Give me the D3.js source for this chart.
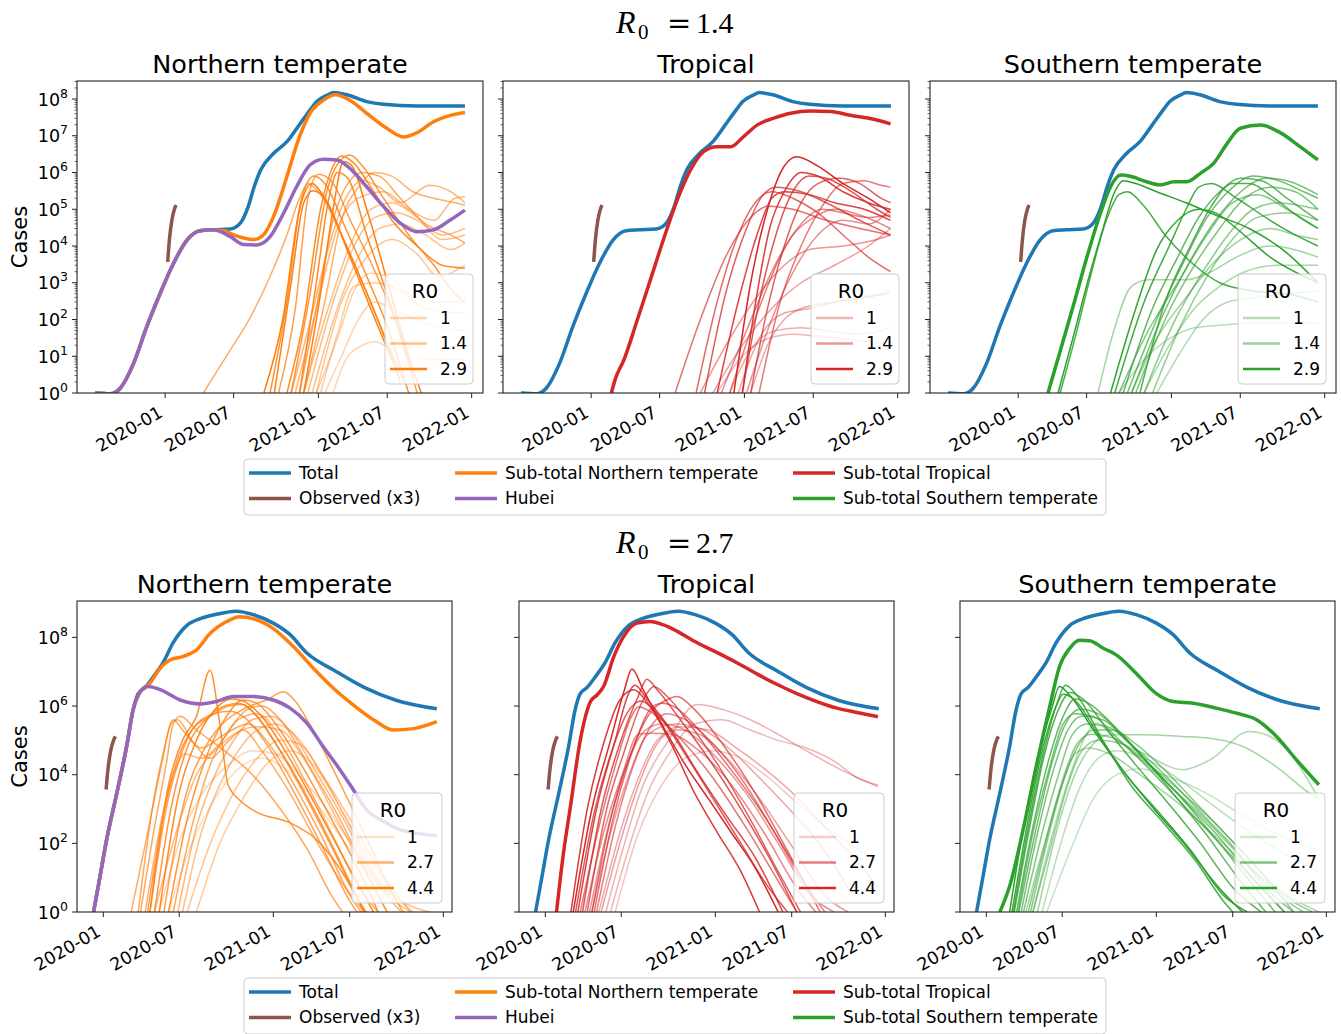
<!DOCTYPE html>
<html><head><meta charset="utf-8">
<script src="https://cdn.jsdelivr.net/npm/d3@7"></script>
<style>
body{margin:0;background:#fff}
text{font-family:"DejaVu Sans",sans-serif;fill:#000}
</style></head>
<body>
<svg id="fig" width="1341" height="1034" xmlns="http://www.w3.org/2000/svg"></svg>
<script>
// ---------------- DATA (x = days since 2020-01-01, y = cases) ----------------
const xTickDays = [0, 163, 365, 529, 730];
const xTickLabels = ["2020-01", "2020-07", "2021-01", "2021-07", "2022-01"];
const regionNames = ["Northern temperate", "Tropical", "Southern temperate"];
const scenarioR0 = ["1.4", "2.7"];
const legendR0Top = [1, 1.4, 2.9];
const legendR0Bottom = [1, 2.7, 4.4];
const mainLegendLabels = ["Total", "Observed (x3)", "Sub-total Northern temperate", "Hubei", "Sub-total Tropical", "Sub-total Southern temperate"];

const observed = [[6,3.7e3],[10,1.45e4],[16,5.1e4],[22,1.0e5],[26,1.3e5]];

// ---- R0 = 1.4 ----
const total14 = [[-167,1],[-131,0.95],[-107,1.35],[-75,6.5],[-44,63],[-12,510],[20,3.4e3],[52,1.45e4],[83,2.6e4],[115,2.75e4],[155,2.9e4],[179,4.2e4],[198,1.2e5],[212,4.1e5],[228,1.2e6],[258,3.3e6],[290,6.9e6],[317,1.8e7],[345,5e7],[361,8.5e7],[385,1.26e8],[401,1.5e8],[433,1.3e8],[480,8.5e7],[520,7.2e7],[599,6.5e7],[714,6.5e7]];
const hubei14 = [[-167,1],[-131,0.95],[-107,1.35],[-75,6.5],[-44,63],[-12,510],[20,3.4e3],[52,1.45e4],[83,2.6e4],[115,2.75e4],[155,1.8e4],[187,1.1e4],[218,1.07e4],[250,1.8e4],[282,7.8e4],[313,4.1e5],[345,1.6e6],[377,2.3e6],[409,2.2e6],[440,1.3e6],[480,4.1e5],[520,1.2e5],[560,4.2e4],[599,2.45e4],[639,2.75e4],[679,5.1e4],[714,9.5e4]];
const subNT14 = [[-167,1],[-131,0.95],[-107,1.35],[-75,6.5],[-44,63],[-12,510],[20,3.4e3],[52,1.45e4],[83,2.6e4],[115,2.75e4],[140,2.6e4],[163,2e4],[210,1.5e4],[234,2e4],[258,6.3e4],[290,7.8e5],[317,7.6e6],[345,4.1e7],[377,9.3e7],[405,1.3e8],[440,9.3e7],[480,4.1e7],[528,1.6e7],[567,9.3e6],[599,1.2e7],[639,2.4e7],[679,3.6e7],[714,4.3e7]];
const subTR14 = [[48,1],[58,2.5],[78,8],[110,98],[141,1.2e3],[173,1.6e4],[205,1.8e5],[237,1.2e6],[268,3.7e6],[300,5e6],[332,5e6],[363,9.5e6],[395,1.95e7],[435,3e7],[475,4.1e7],[522,4.7e7],[570,4.6e7],[617,3.6e7],[673,2.8e7],[713,2.1e7]];
const subST14 = [[71,1],[101,15],[133,275],[164,5.1e3],[196,7.8e4],[220,4.1e5],[244,8.5e5],[267,7.9e5],[306,5.6e5],[339,4.6e5],[371,5.6e5],[402,5.6e5],[434,9.5e5],[466,1.8e6],[498,6.2e6],[529,1.6e7],[577,1.95e7],[625,1.2e7],[672,5e6],[714,2.2e6]];

const cityNT14 = [
 {r0:1.9,p:[[91,1],[150,12],[200,100],[250,1.5e3],[290,2e4],[320,2e5],[340,5e5],[365,3e5],[420,2e4],[470,1e3],[520,40],[570,2]]},
 {r0:2.9,p:[[235,1],[280,100],[320,1e5],[350,5e5],[375,2.5e5],[420,2e4],[470,1e3],[520,40],[560,2]]},
 {r0:2.5,p:[[250,1],[290,300],[325,2e5],[355,8e5],[380,5e5],[430,3e4],[480,1.5e3],[530,60],[580,1]]},
 {r0:2.2,p:[[270,1],[310,200],[340,2e5],[365,9e5],[395,6e5],[445,4e4],[500,2e3],[560,40],[600,1]]},
 {r0:2.9,p:[[260,1],[300,1e3],[330,1.5e5],[352,3.2e5],[380,2e5],[440,5e3],[500,100],[540,8]]},
 {r0:2.6,p:[[290,1],[330,100],[370,1e5],[400,1.5e6],[420,2.8e6],[445,2e6],[490,4e5],[540,5e4],[600,1e4],[660,3e3],[714,2.5e3]]},
 {r0:2.4,p:[[300,1],[345,500],[385,3e5],[415,2e6],[440,3e6],[470,1.5e6],[520,2e5],[580,2e4],[640,3e3],[690,500],[714,300]]},
 {r0:2.0,p:[[320,1],[360,200],[400,5e4],[440,6e5],[470,1e6],[510,8e5],[560,2e5],[620,4e4],[680,2e4],[714,1.2e4]]},
 {r0:1.8,p:[[330,1],[380,300],[420,5e4],[460,4e5],[500,1e6],[540,8e5],[590,3e5],[640,2e5],[690,1.5e5],[714,1.3e5]]},
 {r0:1.7,p:[[300,1],[340,50],[390,1e4],[430,2e5],[470,6e5],[510,4e5],[560,1.5e5],[630,4.5e5],[680,3e5],[714,1.5e5]]},
 {r0:1.6,p:[[310,1],[360,200],[410,3e4],[460,2e5],[520,3e5],[580,1e5],[640,5e4],[690,2e5],[714,2.2e5]]},
 {r0:1.5,p:[[340,1],[400,300],[450,1e4],[500,6e4],[550,8e4],[600,5e4],[660,2e4],[714,3e4]]},
 {r0:1.5,p:[[330,1],[380,100],[440,1e4],[490,1e5],[540,1.5e5],[600,6e4],[660,1.5e4],[714,2e4]]},
 {r0:1.4,p:[[350,1],[410,200],[460,5e3],[510,3e4],[560,4e4],[620,2e4],[680,8e3],[714,1.2e4]]},
 {r0:1.3,p:[[360,1],[420,300],[480,5e3],[540,1.5e4],[600,6e3],[650,1.5e3],[714,3e3]]},
 {r0:1.0,p:[[380,1],[420,10],[460,100],[500,300],[540,200],[600,100],[660,60],[714,50]]},
 {r0:1.1,p:[[360,1],[410,30],[450,600],[490,1.8e3],[530,1.5e3],[580,500],[640,300],[714,300]]},
 {r0:1.0,p:[[400,1],[430,8],[470,20],[500,25],[540,15],[580,10],[640,8],[714,8]]},
 {r0:1.2,p:[[370,1],[410,40],[450,800],[500,1e3],[560,600],[620,200],[714,150]]},
 {r0:2.9,p:[[330,1],[370,500],[400,1e5],[425,2e6],[445,1.5e6],[480,1e5],[530,1e3],[580,10],[610,1]]},
 {r0:2.7,p:[[320,1],[360,1e3],[390,2e5],[410,1e6],[435,7e5],[480,2e4],[540,200],[590,3]]}
];
const cityTR14 = [
 {r0:2.9,p:[[340,1],[380,1e3],[420,1e5],[460,1.5e6],[490,2.7e6],[540,1.5e6],[600,5e5],[660,2e5],[713,8e4]]},
 {r0:2.5,p:[[300,1],[350,300],[400,3e4],[430,2e5],[460,3e5],[520,2.5e5],[580,1.5e5],[650,1e5],[713,5e4]]},
 {r0:2.2,p:[[270,1],[320,500],[370,3e4],[410,2.5e5],[440,4e5],[500,3e5],[560,1.5e5],[640,5e4],[713,2e4]]},
 {r0:2.0,p:[[250,1],[300,300],[350,2e4],[400,2e5],[430,3e5],[480,2e5],[540,8e4],[600,2e4],[660,5e3],[713,2e3]]},
 {r0:1.9,p:[[200,1],[260,100],[320,5e3],[380,6e4],[420,1.2e5],[480,1e5],[560,5e4],[640,3e4],[713,2e4]]},
 {r0:2.3,p:[[360,1],[400,300],[440,2e4],[480,3e5],[520,8e5],[560,7e5],[620,3e5],[680,1e5],[713,6e4]]},
 {r0:2.1,p:[[380,1],[420,200],[460,1e4],[500,1.5e5],[540,5e5],[590,7e5],[640,5e5],[690,2e5],[713,1.5e5]]},
 {r0:1.8,p:[[400,1],[450,300],[500,1e4],[550,1.2e5],[600,5e5],[650,6e5],[690,4.5e5],[713,4e5]]},
 {r0:1.7,p:[[330,1],[390,100],[450,5e3],[500,4e4],[550,1e5],[600,8e4],[660,6e4],[713,7e4]]},
 {r0:1.6,p:[[310,1],[370,50],[430,2e3],[480,2e4],[530,6e4],[580,1e5],[640,7e4],[713,3e4]]},
 {r0:1.5,p:[[370,1],[430,100],[490,3e3],[540,2e4],[600,5e4],[660,4e4],[713,1e5]]},
 {r0:2.6,p:[[360,1],[395,500],[425,3e4],[460,3e5],[500,1e6],[540,8e5],[600,3e5],[660,1.5e5],[713,1e5]]},
 {r0:1.4,p:[[260,1],[330,30],[400,500],[460,3e3],[520,8e3],[600,1e4],[680,1.5e4],[713,2e4]]},
 {r0:1.3,p:[[290,1],[360,20],[430,200],[500,1e3],[580,3e3],[660,1e4],[713,3e4]]},
 {r0:1.0,p:[[300,1],[360,10],[420,30],[480,40],[540,35],[600,30],[660,25],[713,20]]},
 {r0:1.1,p:[[330,1],[380,15],[440,50],[500,60],[560,50],[640,40],[713,60]]},
 {r0:1.2,p:[[350,1],[400,30],[460,150],[520,200],[580,300],[640,400],[713,500]]},
 {r0:1.2,p:[[380,1],[420,20],[460,100],[500,200],[580,300],[660,400],[713,600]]}
];
const cityST14 = [
 {r0:2.9,p:[[95,1],[130,30],[165,1e3],[200,2.5e4],[230,3e5],[250,6e5],[280,5e5],[330,3e5],[400,1.5e5],[470,7e4],[550,3e4],[630,8e3],[714,1e3]]},
 {r0:2.5,p:[[100,1],[140,50],[175,2e3],[210,5e4],[240,2.5e5],[260,3e5],[300,1.2e5],[350,2e4],[420,3e3],[480,1e3],[560,600],[640,500],[714,300]]},
 {r0:1.3,p:[[190,1],[230,60],[270,800],[310,1.2e3],[400,1.2e3],[460,2e3],[520,5e3],[600,1e4],[714,5e3]]},
 {r0:1.0,p:[[240,1],[300,8],[360,30],[420,60],[480,70],[560,80],[640,80],[714,80]]},
 {r0:2.6,p:[[230,1],[300,300],[360,1e4],[400,1e5],[430,4e5],[460,5e5],[520,2e5],[600,5e4],[660,2e4],[714,1e4]]},
 {r0:2.2,p:[[250,1],[320,200],[380,5e3],[430,6e4],[480,3e5],[530,7e5],[580,6e5],[640,2e5],[714,5e4]]},
 {r0:2.0,p:[[260,1],[330,100],[400,5e3],[450,6e4],[500,3e5],[560,8e5],[620,6e5],[680,3e5],[714,2e5]]},
 {r0:1.9,p:[[270,1],[340,100],[410,4e3],[470,5e4],[530,3e5],[590,7e5],[640,6e5],[714,2.5e5]]},
 {r0:1.8,p:[[280,1],[350,100],[420,3e3],[480,3e4],[540,2e5],[600,4e5],[660,3e5],[714,1e5]]},
 {r0:1.7,p:[[240,1],[310,50],[380,1e3],[450,2e4],[510,1.5e5],[570,2.5e5],[640,1e5],[714,3e4]]},
 {r0:2.4,p:[[290,1],[350,300],[410,1e4],[460,1.2e5],[510,5e5],[550,5e5],[610,2e5],[670,6e4],[714,3e4]]},
 {r0:1.6,p:[[300,1],[370,80],[440,2e3],[500,2e4],[560,1e5],[620,1.5e5],[680,1.2e5],[714,1e5]]},
 {r0:1.5,p:[[320,1],[390,80],[450,1.5e3],[510,1.5e4],[570,6e4],[640,8e4],[714,5e4]]},
 {r0:1.4,p:[[270,1],[330,30],[400,400],[460,3e3],[530,1.5e4],[600,3e4],[660,2e4],[714,1.5e4]]},
 {r0:1.2,p:[[300,1],[360,20],[420,200],[480,800],[540,2e3],[620,3e3],[714,3e3]]},
 {r0:1.1,p:[[330,1],[390,15],[440,100],[500,300],[570,400],[640,500],[714,600]]},
 {r0:2.8,p:[[220,1],[280,200],[330,8e3],[380,5e4],[430,1e5],[470,8e4],[520,3e4],[600,5e3],[714,1e3]]}
];

// ---- R0 = 2.7 ----
const total27 = [[-21,1],[-7,11],[7,126],[29,2.9e3],[50,6.6e4],[64,7.8e5],[75,2.3e6],[90,3.5e6],[107,7e6],[128,1.8e7],[150,7e7],[179,2.2e8],[208,3.5e8],[243,4.7e8],[285,5.8e8],[322,4.6e8],[365,2.6e8],[401,1.2e8],[437,3.5e7],[498,1.05e7],[560,3.5e6],[630,1.45e6],[716,8.3e5]];
const hubei27 = [[-21,1],[-7,11],[7,126],[29,2.9e3],[50,6.6e4],[64,7.8e5],[79,2.6e6],[97,3.7e6],[122,3e6],[165,1.5e6],[208,1.15e6],[243,1.35e6],[279,1.9e6],[322,1.9e6],[365,1.5e6],[401,8.7e5],[437,3.2e5],[472,6.6e4],[508,1.4e4],[537,3.6e3],[565,950],[600,450],[637,250],[716,166]];
const subNT27 = [[-21,1],[-7,11],[7,126],[29,2.9e3],[50,6.6e4],[64,7.8e5],[79,2.6e6],[100,4.6e6],[122,1.26e7],[143,2.2e7],[172,2.8e7],[200,4.3e7],[229,1.3e8],[265,2.9e8],[293,4e8],[322,3.5e8],[365,1.8e8],[408,5.4e7],[451,1.26e7],[494,3.3e6],[537,1.07e6],[580,4e5],[623,2e5],[666,2.2e5],[716,3.5e5]];
const subTR27 = [[24,1],[39,52],[54,1.2e3],[75,1e5],[97,1.35e6],[111,2.1e6],[125,3.7e6],[147,2.75e7],[168,1.05e8],[197,2.6e8],[225,2.9e8],[254,2.3e8],[283,1.5e8],[326,7e7],[369,3.6e7],[412,1.8e7],[455,8.5e6],[497,4.3e6],[540,2.3e6],[583,1.35e6],[626,8.7e5],[669,6.5e5],[714,4.9e5]];
const subST27 = [[29,1],[50,5.6],[79,250],[107,1.7e4],[136,9.5e5],[157,1.4e7],[179,4.8e7],[200,8.3e7],[222,8e7],[251,4.8e7],[279,3.1e7],[322,8.9e6],[365,2.3e6],[401,1.35e6],[444,1.2e6],[494,8.7e5],[537,6.2e5],[580,4e5],[623,1.3e5],[666,2.7e4],[714,5.1e3]];

const cityNT27 = [
 {r0:3.0,p:[[80,1],[110,300],[135,2e4],[150,3e5],[165,5e5],[200,2e5],[260,5e4],[320,1e4],[380,1e3],[440,60],[490,3],[530,0.5]]},
 {r0:2.8,p:[[60,1],[95,200],[125,2e4],[145,3e5],[160,4e5],[190,1e5],[230,3e4],[270,1e5],[300,2e5],[340,5e4],[400,3e3],[460,100],[520,5],[560,1]]},
 {r0:3.2,p:[[100,1],[135,1e3],[170,5e4],[200,3e5],[240,6e5],[270,7e5],[300,5e5],[350,8e4],[410,3e3],[470,80],[530,2],[560,0.5]]},
 {r0:3.5,p:[[110,1],[145,1e3],[180,6e4],[220,4e5],[260,1e6],[290,1.2e6],[320,7e5],[370,8e4],[430,3e3],[490,80],[550,2],[580,0.5]]},
 {r0:4.0,p:[[120,1],[160,2e3],[200,1e5],[240,8e5],[275,1.6e6],[300,1.4e6],[340,5e5],[400,3e4],[460,1e3],[520,30],[580,1]]},
 {r0:3.6,p:[[140,1],[180,500],[220,3e4],[260,4e5],[300,1.5e6],[330,1.2e6],[370,3e5],[430,1.5e4],[490,500],[550,15],[600,0.5]]},
 {r0:2.9,p:[[150,1],[190,300],[230,2e4],[270,2e5],[310,8e5],[340,1e6],[380,4e5],[440,2e4],[500,800],[560,20],[620,0.5]]},
 {r0:3.3,p:[[130,1],[175,2e3],[215,5e4],[255,3e5],[300,8e5],[350,1.5e6],[387,2.6e6],[410,1.5e6],[450,2e5],[510,5e3],[570,100],[630,2],[660,0.5]]},
 {r0:2.5,p:[[160,1],[200,300],[240,1e4],[280,1e5],[320,4e5],[360,5e5],[400,2e5],[460,1e4],[520,400],[580,10],[640,1]]},
 {r0:2.2,p:[[170,1],[210,200],[250,5e3],[290,5e4],[330,2e5],[370,3e5],[410,1.5e5],[470,1e4],[530,500],[590,20],[660,1]]},
 {r0:2.7,p:[[90,1],[125,500],[150,1e4],[175,4e4],[210,3e4],[250,8e4],[290,4e5],[330,6e5],[370,2e5],[430,8e3],[490,200],[550,5],[590,1]]},
 {r0:3.8,p:[[100,1],[140,5e3],[170,1e5],[200,5e5],[229,1.1e7],[250,3e5],[268,5e3],[300,1.5e3],[330,800],[400,400],[460,120],[520,10],[560,1]]},
 {r0:2.0,p:[[180,1],[230,100],[280,3e3],[330,3e4],[380,1e5],[420,8e4],[470,1e4],[530,300],[600,5],[660,1]]},
 {r0:1.5,p:[[120,1],[170,200],[220,4e3],[270,2e4],[320,5e4],[370,4e4],[420,1e4],[480,1e3],[560,30],[640,2],[700,1]]},
 {r0:1.2,p:[[140,1],[190,100],[240,2e3],[290,1.5e4],[340,3e4],[390,1.5e4],[450,2e3],[520,100],[600,5],[700,1]]},
 {r0:3.0,p:[[75,1],[105,1e3],[130,5e4],[150,4e5],[170,2e5],[210,6e4],[260,1.5e5],[310,3e5],[350,1e5],[410,5e3],[470,150],[530,3],[570,0.5]]},
 {r0:3.4,p:[[95,1],[130,800],[160,3e4],[190,2e5],[230,5e5],[270,1e6],[300,1.1e6],[330,5e5],[380,5e4],[440,2e3],[500,50],[560,1]]},
 {r0:2.4,p:[[110,1],[160,300],[200,1e4],[240,5e4],[280,1.5e5],[330,2.5e5],[380,2e5],[430,3e4],[490,1e3],[550,30],[610,1]]},
 {r0:1.8,p:[[200,1],[250,100],[300,2e3],[350,2e4],[400,5e4],[450,2e4],[510,1e3],[570,40],[640,2],[700,0.5]]}
];
const cityTR27 = [
 {r0:4.4,p:[[60,1],[100,1e3],[140,1e5],[170,3e6],[186,1.2e7],[210,3e6],[250,3e5],[300,2e4],[350,2e3],[400,200],[450,20],[500,1]]},
 {r0:3.8,p:[[70,1],[110,1e3],[150,1e5],[180,2.5e6],[192,4e6],[220,1.5e6],[270,2e5],[330,1e4],[390,600],[450,40],[510,1]]},
 {r0:3.5,p:[[80,1],[120,1e3],[160,8e4],[200,2e6],[218,6e6],[240,3e6],[290,4e5],[350,3e4],[420,1e3],[480,40],[540,1]]},
 {r0:3.2,p:[[90,1],[130,800],[170,5e4],[210,1.5e6],[233,3.7e6],[260,2e6],[310,3e5],[370,2e4],[440,500],[500,15],[560,0.5]]},
 {r0:3.0,p:[[100,1],[140,500],[180,3e4],[220,5e5],[260,1.5e6],[283,1.9e6],[320,8e5],[380,8e4],[450,3e3],[520,60],[590,1]]},
 {r0:2.8,p:[[75,1],[115,300],[155,3e4],[185,5e5],[200,9.5e5],[240,5e5],[300,8e4],[360,8e3],[430,300],[500,8],[540,1]]},
 {r0:2.6,p:[[110,1],[150,300],[190,2e4],[230,3e5],[260,6e5],[300,4e5],[360,8e4],[420,8e3],[480,400],[540,15],[600,1]]},
 {r0:2.4,p:[[85,1],[125,200],[165,1e4],[200,1.5e5],[230,1.6e5],[270,1.5e5],[330,5e4],[400,5e3],[470,200],[540,5],[600,0.5]]},
 {r0:2.0,p:[[120,1],[160,100],[200,5e3],[240,8e4],[280,2e5],[330,1.5e5],[390,3e4],[460,2e3],[530,80],[600,3],[650,1]]},
 {r0:1.6,p:[[130,1],[170,100],[210,5e3],[260,8e4],[326,1.1e6],[380,8e5],[440,4e5],[500,1.5e5],[560,5e4],[630,1.5e4],[714,4.5e3]]},
 {r0:1.5,p:[[140,1],[180,80],[220,3e3],[270,5e4],[320,3e5],[380,4e5],[440,2e5],[500,1e5],[560,6e4],[620,2.5e4],[670,8e3],[714,5e3]]},
 {r0:1.9,p:[[100,1],[140,200],[180,1e4],[220,1.5e5],[280,3e5],[340,2e5],[400,5e4],[460,8e3],[530,800],[600,60],[660,3]]},
 {r0:3.4,p:[[65,1],[105,800],[145,6e4],[175,6e5],[205,1.4e6],[240,6e5],[300,4e4],[360,2e3],[420,100],[480,5],[520,1]]},
 {r0:2.2,p:[[95,1],[135,300],[175,2e4],[215,2e5],[250,3e5],[300,2e5],[360,4e4],[430,3e3],[500,100],[570,3],[620,1]]},
 {r0:4.0,p:[[55,1],[90,1e3],[125,8e4],[160,1.5e6],[190,3e6],[220,1.2e6],[270,8e4],[320,3e3],[370,200],[420,15],[460,1]]},
 {r0:1.2,p:[[150,1],[200,200],[250,5e3],[300,3e4],[360,5e4],[420,3e4],[480,8e3],[540,1.5e3],[620,200],[714,30]]},
 {r0:2.9,p:[[105,1],[145,500],[185,4e4],[225,8e5],[250,1.2e6],[280,9e5],[330,2e5],[390,2e4],[460,1e3],[520,50],[580,2]]},
 {r0:1.8,p:[[115,1],[160,200],[200,8e3],[240,1e5],[290,2.5e5],[350,2e5],[410,6e4],[470,1.5e4],[530,3e3],[600,300],[680,20],[714,5]]}
];
const cityST27 = [
 {r0:4.4,p:[[50,1],[80,300],[110,3e4],[140,8e5],[157,3.7e6],[180,2e6],[230,2e5],[290,1.5e4],[360,1e3],[430,80],[500,5],[550,1]]},
 {r0:4.0,p:[[55,1],[90,500],[120,5e4],[150,1e6],[165,2.2e6],[190,1.5e6],[240,1.5e5],[300,1e4],[370,800],[440,60],[510,3],[560,1]]},
 {r0:3.6,p:[[60,1],[95,400],[125,4e4],[155,8e5],[180,2.5e6],[210,1.5e6],[260,2e5],[320,2e4],[390,1.5e3],[460,100],[530,5],[590,1]]},
 {r0:3.3,p:[[65,1],[100,300],[135,3e4],[165,5e5],[190,1.6e6],[220,1.2e6],[270,3e5],[330,4e4],[400,3e3],[470,200],[540,10],[600,1]]},
 {r0:3.0,p:[[70,1],[105,200],[140,2e4],[170,3e5],[200,8e5],[240,6e5],[290,1.5e5],[350,2e4],[420,2e3],[490,150],[560,10],[620,1]]},
 {r0:2.8,p:[[75,1],[110,200],[145,1.5e4],[175,2e5],[205,5e5],[250,4e5],[300,1e5],[360,1.5e4],[430,1.5e3],[500,150],[570,10],[640,1]]},
 {r0:2.6,p:[[80,1],[120,200],[155,1e4],[185,1.5e5],[215,3e5],[260,2.5e5],[320,6e4],[390,8e3],[460,800],[530,80],[600,5],[660,1]]},
 {r0:2.4,p:[[90,1],[130,150],[165,8e3],[195,8e4],[225,1.5e5],[270,1.2e5],[330,3e4],[400,4e3],[470,500],[540,50],[610,5],[680,1]]},
 {r0:2.2,p:[[100,1],[140,100],[175,5e3],[205,5e4],[240,1e5],[290,8e4],[350,2e4],[420,3e3],[490,400],[560,40],[640,3],[700,1]]},
 {r0:2.0,p:[[85,1],[125,100],[160,4e3],[190,4e4],[220,6e4],[265,4e4],[330,1e4],[400,2e3],[470,300],[540,40],[620,5],[714,1]]},
 {r0:1.9,p:[[110,1],[150,200],[190,1e4],[230,8e4],[265,1.45e5],[336,1.45e5],[420,1.3e5],[480,1.15e5],[551,6.6e4],[623,1.7e4],[694,2.9e3],[714,2e3]]},
 {r0:1.7,p:[[100,1],[140,150],[180,1e4],[215,1.5e5],[236,3.2e5],[280,1e5],[336,4.3e4],[422,1.4e4],[480,2.7e4],[565,1.8e5],[623,1e5],[714,2e3]]},
 {r0:1.5,p:[[120,1],[160,100],[200,4e3],[240,3e4],[280,5e4],[340,3e4],[410,8e3],[480,1.5e3],[550,300],[630,60],[714,15]]},
 {r0:1.3,p:[[130,1],[180,60],[230,2e3],[280,1e4],[330,1.5e4],[400,8e3],[470,3e3],[540,800],[620,200],[714,60]]},
 {r0:3.8,p:[[58,1],[92,400],[122,4e4],[150,1e6],[170,4e6],[195,2e6],[250,1e5],[310,5e3],[380,400],[450,30],[510,2],[550,0.5]]},
 {r0:2.9,p:[[68,1],[100,200],[135,1.5e4],[165,3e5],[190,6e5],[230,5e5],[280,1.2e5],[340,2e4],[410,2e3],[480,200],[550,20],[620,2],[660,0.5]]},
 {r0:2.5,p:[[95,1],[135,200],[170,1e4],[200,8e4],[230,2e5],[270,2e5],[320,8e4],[380,1.5e4],[450,1.5e3],[520,150],[600,10],[660,1]]}
];

// ---------------- STYLE / LAYOUT ----------------
const C = {total:"#1f77b4", obs:"#8c564b", hubei:"#9467bd", nt:"#ff7f0e", tr:"#d62728", st:"#2ca02c"};
const regionColors = [C.nt, C.tr, C.st];
const rows = [
  {top:81, h:312, w:406, lefts:[77,503,930], xDom:[-210,757], yExp:8.49, step:1, minor:true,
   supY:33, legY:459, r0Max:2.9, r0Leg:legendR0Top, total:total14, hubei:hubei14,
   subs:[subNT14, subTR14, subST14], cities:[cityNT14, cityTR14, cityST14], legW:88},
  {top:601, h:311, w:375, lefts:[77,519,960], xDom:[-56.5,748.6], yExp:9.06, step:2, minor:false,
   supY:553, legY:978, r0Max:4.4, r0Leg:legendR0Bottom, total:total27, hubei:hubei27,
   subs:[subNT27, subTR27, subST27], cities:[cityNT27, cityTR27, cityST27], legW:90}
];

const svg = d3.select("#fig");
svg.append("rect").attr("width",1341).attr("height",1034).attr("fill","#fff");

rows.forEach((row, ri) => {
  const x = d3.scaleLinear().domain(row.xDom).range([0, row.w]);
  const y = d3.scaleLog().domain([1, Math.pow(10, row.yExp)]).range([row.h, 0]);
  const line = d3.line().x(d => x(d[0])).y(d => y(Math.max(d[1], 0.05))).curve(d3.curveMonotoneX);

  // suptitle  R_0 = value
  const st = svg.append("g");
  st.append("text").attr("x",616).attr("y",row.supY).style("font-family","'Liberation Serif',serif")
    .style("font-style","italic").style("font-size","32px").text("R");
  st.append("text").attr("x",638).attr("y",row.supY+6).style("font-family","'Liberation Serif',serif")
    .style("font-size","21px").text("0");
  st.append("text").attr("x",667).attr("y",row.supY).style("font-family","'DejaVu Serif',serif")
    .style("font-size","29px").text("=");
  st.append("text").attr("x",696).attr("y",row.supY).style("font-family","'Liberation Serif',serif")
    .style("font-size","30px").text(scenarioR0[ri]);

  row.lefts.forEach((left, pi) => {
    const g = svg.append("g").attr("transform", `translate(${left},${row.top})`);
    const cid = `clip${ri}${pi}`;
    g.append("clipPath").attr("id", cid).append("rect").attr("width", row.w).attr("height", row.h);
    const plot = g.append("g").attr("clip-path", `url(#${cid})`);
    const col = regionColors[pi];

    row.cities[pi].forEach(c => {
      plot.append("path").attr("d", line(c.p)).attr("fill","none").attr("stroke", col)
        .attr("stroke-opacity", c.r0 / row.r0Max).attr("stroke-width", 1.5).attr("stroke-linejoin","round");
    });
    const mainLine = (data, color) => plot.append("path").attr("d", line(data)).attr("fill","none")
      .attr("stroke", color).attr("stroke-width", 3.5).attr("stroke-linejoin","round").attr("stroke-linecap","butt");
    mainLine(row.total, C.total);
    mainLine(row.subs[pi], col);
    if (pi === 0) mainLine(row.hubei, C.hubei);
    mainLine(observed, C.obs);

    // frame
    g.append("rect").attr("width", row.w).attr("height", row.h).attr("fill","none")
      .attr("stroke","#222").attr("stroke-width",1.1);

    // x ticks
    xTickDays.forEach((dd, i) => {
      const px = x(dd);
      g.append("line").attr("x1",px).attr("x2",px).attr("y1",row.h).attr("y2",row.h+5)
        .attr("stroke","#222").attr("stroke-width",1);
      g.append("text").attr("transform", `translate(${px-8},${row.h+11.5}) rotate(-30)`)
        .attr("text-anchor","end").attr("dy","0.76em").style("font-size","17.5px").text(xTickLabels[i]);
    });

    // y ticks
    for (let k = 0; k <= Math.floor(row.yExp); k++) {
      const v = Math.pow(10, k);
      if (k % row.step === 0) {
        const py = y(v);
        g.append("line").attr("x1",0).attr("x2",-5).attr("y1",py).attr("y2",py).attr("stroke","#222").attr("stroke-width",1);
        if (pi === 0) {
          const t = g.append("text").attr("x",-9).attr("y",py+6.5).attr("text-anchor","end").style("font-size","17.5px");
          t.append("tspan").text("10");
          t.append("tspan").attr("dy",-8).style("font-size","12.5px").text(String(k));
        }
      }
      if (row.minor) {
        for (let m = 2; m <= 9; m++) {
          const mv = m * v;
          if (mv > Math.pow(10, row.yExp)) break;
          const py = y(mv);
          g.append("line").attr("x1",0).attr("x2",-2.5).attr("y1",py).attr("y2",py).attr("stroke","#222").attr("stroke-width",0.7);
        }
      }
    }
    if (pi === 0) {
      g.append("text").attr("transform", `translate(${20-left},${row.h/2}) rotate(-90)`)
        .attr("text-anchor","middle").attr("dy","0.35em").style("font-size","21px").text("Cases");
    }
    // title
    g.append("text").attr("x", row.w/2).attr("y", -8).attr("text-anchor","middle")
      .style("font-size","25.5px").text(regionNames[pi]);

    // R0 legend
    const lw = row.legW, lh = 110;
    const lg = g.append("g").attr("transform", `translate(${row.w-10-lw},${row.h-9-lh})`);
    lg.append("rect").attr("width", lw).attr("height", lh).attr("rx",4).attr("fill","#fff")
      .attr("fill-opacity",0.8).attr("stroke","#ccc").attr("stroke-width",1);
    lg.append("text").attr("x", lw/2 - 4).attr("y", 17).attr("dy","0.35em").attr("text-anchor","middle")
      .style("font-size","20px").text("R0");
    row.r0Leg.forEach((r, j) => {
      const yy = 44 + j*25.5;
      lg.append("line").attr("x1",5).attr("x2",42).attr("y1",yy).attr("y2",yy).attr("stroke",col)
        .attr("stroke-opacity", r/row.r0Max).attr("stroke-width",2.5);
      lg.append("text").attr("x",55).attr("y",yy).attr("dy","0.35em").style("font-size","17px").text(String(r));
    });
  });

  // main legend
  const L = svg.append("g").attr("transform", `translate(244,${row.legY})`);
  L.append("rect").attr("width",862).attr("height",56).attr("rx",4).attr("fill","#fff")
    .attr("fill-opacity",0.8).attr("stroke","#ccc").attr("stroke-width",1);
  const legColors = [C.total, C.obs, C.nt, C.hubei, C.tr, C.st];
  const colX = [5, 211, 549];
  mainLegendLabels.forEach((lab, i) => {
    const cx = colX[Math.floor(i/2)], cy = 14 + (i%2)*25.5;
    L.append("line").attr("x1",cx).attr("x2",cx+42).attr("y1",cy).attr("y2",cy).attr("stroke",legColors[i]).attr("stroke-width",3.5);
    L.append("text").attr("x",cx+50).attr("y",cy).attr("dy","0.35em").style("font-size","17px").text(lab);
  });
});
</script>
</body></html>
